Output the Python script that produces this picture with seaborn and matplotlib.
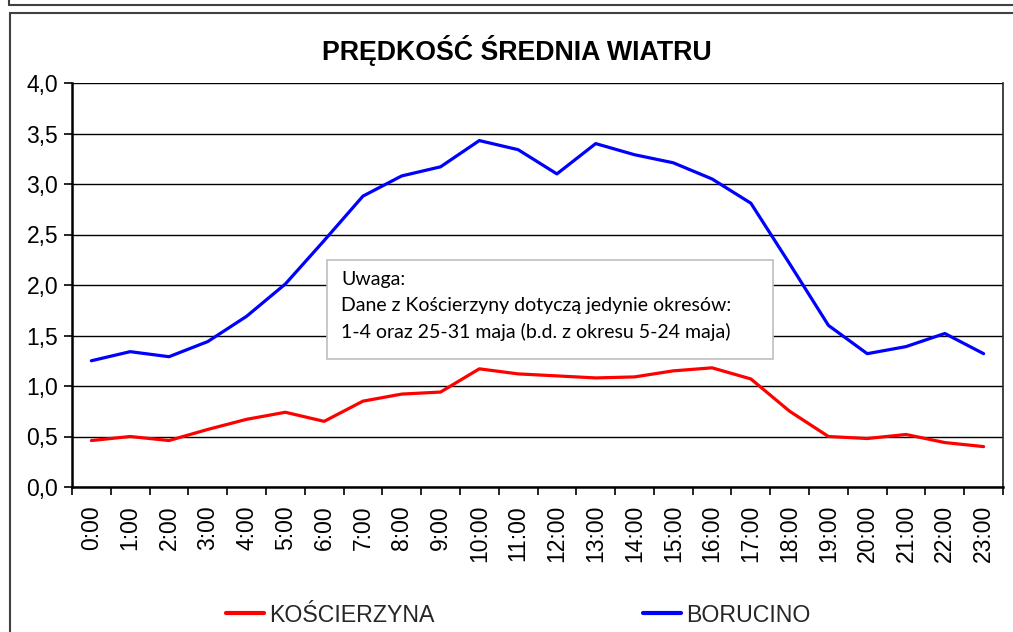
import pandas as pd
import matplotlib
matplotlib.use("Agg")
import matplotlib.pyplot as plt
from matplotlib.patches import Rectangle
from matplotlib.lines import Line2D
from matplotlib.ticker import FuncFormatter, MultipleLocator
import seaborn as sns

# Data
hours = [f"{h}:00" for h in range(24)]
koscierzyna = [0.46, 0.50, 0.46, 0.57, 0.67, 0.74, 0.65, 0.85, 0.92, 0.94,
               1.17, 1.12, 1.10, 1.08, 1.09, 1.15, 1.18, 1.07, 0.75, 0.50,
               0.48, 0.52, 0.44, 0.40]
borucino = [1.25, 1.34, 1.29, 1.44, 1.69, 2.01, 2.44, 2.88, 3.08, 3.17,
            3.43, 3.34, 3.10, 3.40, 3.29, 3.21, 3.05, 2.81, 2.21, 1.60,
            1.32, 1.39, 1.52, 1.32]
series_names = ["KOŚCIERZYNA", "BORUCINO"]
series_colors = ["#FF0000", "#0000FF"]

df = pd.DataFrame({
    "pos": list(range(24)) * 2,
    "value": koscierzyna + borucino,
    "station": [series_names[0]] * 24 + [series_names[1]] * 24,
})

sns.set_theme(style="white")
plt.rcParams["font.family"] = ["Liberation Sans", "DejaVu Sans"]

fig = plt.figure(figsize=(10.13, 6.32), dpi=100)
ax = fig.add_axes([72 / 1013, 1 - 487 / 632, 931 / 1013, 404 / 632])

sns.lineplot(data=df, x="pos", y="value", hue="station",
             palette=dict(zip(series_names, series_colors)),
             linewidth=2.3, ax=ax, legend=False, zorder=4)

# Axes styling
ax.set_xlim(-0.5, 23.5)
ax.set_ylim(0, 4.0)
ax.set_xlabel("")
ax.set_ylabel("")
ax.yaxis.set_major_locator(MultipleLocator(0.5))
ax.yaxis.set_major_formatter(FuncFormatter(lambda v, p: f"{v:.1f}".replace(".", ",")))
ax.set_xticks(range(24))
ax.set_xticklabels(hours, rotation=90)
ax.set_xticks([i - 0.5 for i in range(25)], minor=True)
ax.tick_params(axis="x", which="major", length=0, pad=13, labelsize=16.5, colors="black")
ax.tick_params(axis="x", which="minor", bottom=True, length=6, width=1.2, color="black")
ax.tick_params(axis="y", left=True, length=6, width=1.2, color="black", labelsize=16.5, pad=4)
for lab in ax.get_xticklabels() + ax.get_yticklabels():
    lab.set_color("black")

ax.grid(axis="y", color="black", linewidth=1.0)
ax.set_axisbelow(True)
for side in ["left", "bottom"]:
    ax.spines[side].set_color("black")
    ax.spines[side].set_linewidth(1.8)
ax.spines["right"].set_color("#222222")
ax.spines["right"].set_linewidth(1.2)
ax.spines["top"].set_visible(False)

# Annotation box
ax.add_patch(Rectangle((0.274, 0.317), 0.479, 0.245, transform=ax.transAxes,
                       facecolor="white", edgecolor="#BFBFBF", linewidth=1.2, zorder=3))
note_lines = ["Uwaga:",
              "Dane z Kościerzyny dotyczą jedynie okresów:",
              "1-4 oraz 25-31 maja (b.d. z okresu 5-24 maja)"]
for i, line in enumerate(note_lines):
    ax.text(0.289, 0.513 - i * 0.0645, line, transform=ax.transAxes,
            ha="left", va="center", fontsize=14, family=["Lato", "DejaVu Sans"],
            color="black", zorder=5)

# Title
fig.text(517 / 1013, 1 - 50 / 632, "PRĘDKOŚĆ ŚREDNIA WIATRU",
         ha="center", va="center", fontsize=19.3, fontweight="bold", color="black")

# Legend
handles = [Line2D([], [], color=c, linewidth=3) for c in series_colors]
fig.legend(handles, series_names, loc="center left", ncol=2,
           bbox_to_anchor=(226 / 1013, 1 - 615 / 632), frameon=False,
           fontsize=16.7, handlelength=1.65, handletextpad=0.2,
           columnspacing=9.0, borderpad=0, borderaxespad=0)

# Chart area borders
fig.add_artist(Rectangle((10 / 1013, -0.1), 1.2, 1 - 13 / 632 + 0.1,
                         transform=fig.transFigure, fill=False,
                         edgecolor="#404040", linewidth=1.5))
fig.add_artist(Line2D([9 / 1013, 1.0], [1 - 5 / 632, 1 - 5 / 632],
                      transform=fig.transFigure, color="#404040", linewidth=1.5))
fig.add_artist(Line2D([9 / 1013, 9 / 1013], [1 - 5 / 632, 1.0],
                      transform=fig.transFigure, color="#404040", linewidth=1.5))

fig.savefig("out.png", dpi=100)
